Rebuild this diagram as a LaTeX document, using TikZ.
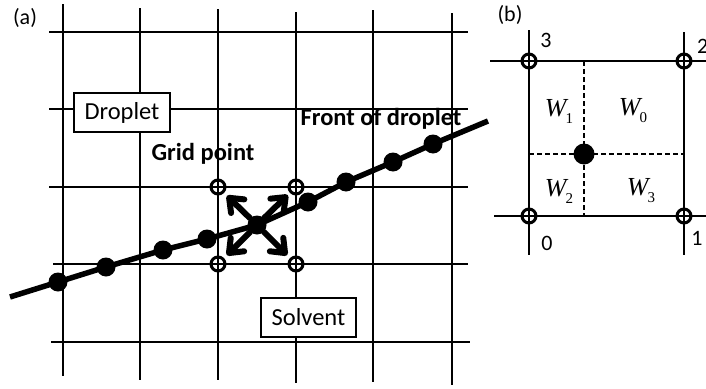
\documentclass[tikz,border=0pt]{standalone}
\usepackage{fontspec}
\setmainfont{Carlito}
\newfontfamily\wfont{Liberation Serif}
\usetikzlibrary{arrows.meta}
\begin{document}
\begin{tikzpicture}[x=1pt,y=-1pt,
  gridline/.style={line width=2.1pt},
  gp/.style={circle,draw,line width=3pt,minimum size=14pt,inner sep=0pt},
  dot/.style={circle,fill,minimum size=19pt,inner sep=0pt},
  lblbox/.style={draw,line width=1.8pt,inner sep=0pt,font=\fontsize{24.5}{24.5}\selectfont},
  boldlbl/.style={font=\fontsize{24.5}{24.5}\selectfont\bfseries,inner sep=0pt},
  panel/.style={font=\fontsize{22}{22}\selectfont,inner sep=0pt},
  arr/.style={line width=6pt,line cap=round,-{Straight Barb[length=12pt,width=19pt,round]}},
  dsh/.style={line width=1.8pt,dash pattern=on 5pt off 3pt},
  wlbl/.style={inner sep=0pt,font=\wfont\fontsize{26}{26}\selectfont}]
\useasboundingbox (0,0) rectangle (706,388);
% ---------- panel (a) ----------
\node[panel] (la) at (25,18) {(a)};
\draw[gridline] (63,4) -- (63,376);
\draw[gridline] (140,8) -- (140,380);
\draw[gridline] (218,9) -- (218,380);
\draw[gridline] (296,12) -- (296,383);
\draw[gridline] (373,10) -- (373,382);
\draw[gridline] (452,13) -- (452,385);
\draw[gridline] (49,32) -- (468,32);
\draw[gridline] (49,109) -- (468,109);
\draw[gridline] (49,187) -- (468,187);
\draw[gridline] (53,264) -- (468,264);
\draw[gridline] (51,342) -- (470,342);
% grid points
\node[gp] (g1) at (218,187) {};
\node[gp] (g2) at (296,187) {};
\node[gp] (g3) at (218,264) {};
\node[gp] (g4) at (296,264) {};
% front of droplet
\coordinate (fs) at (10,297);
\coordinate (fe) at (488,121);
\node[dot] (d1) at (58,282) {};
\node[dot] (d2) at (106,267) {};
\node[dot] (d3) at (163,250) {};
\node[dot] (d4) at (207,239) {};
\node[dot] (c)  at (257,225) {};
\node[dot] (d6) at (308,202) {};
\node[dot] (d7) at (346,182) {};
\node[dot] (d8) at (393,162) {};
\node[dot] (d9) at (433,144) {};
\draw[line width=5.5pt] (fs) -- (d1.center) -- (d2.center) -- (d3.center) -- (d4.center) -- (c.center) -- (d6.center) -- (d7.center) -- (d8.center) -- (d9.center) -- (fe);
% arrows
\draw[arr,shorten >=4pt] (c) -- (g1);
\draw[arr,shorten >=3pt] (c) -- (g2);
\draw[arr,shorten >=4pt] (c) -- (g3);
\draw[arr,shorten >=4pt] (c) -- (g4);
% labels
\node[lblbox,fill=white,minimum width=96pt,minimum height=39pt] (drop) at (122,112.5) {Droplet};
\node[lblbox,fill=white,minimum width=95pt,minimum height=39pt] (solv) at (308.5,317.5) {Solvent};
\node[boldlbl] (front) at (381,119) {Front of droplet};
\node[boldlbl] (grid) at (203,154) {Grid point};
% ---------- panel (b) ----------
\node[panel] (lb) at (510,15) {(b)};
\draw[gridline] (529,30) -- (529,255);
\draw[gridline] (684,32) -- (684,255);
\draw[gridline] (490,61) -- (706,61);
\draw[gridline] (494,216) -- (706,216);
\node[gp] (p0) at (529,216) {};
\node[gp] (p1) at (684,216) {};
\node[gp] (p2) at (684,61) {};
\node[gp] (p3) at (529,61) {};
\node[dot,minimum size=21pt] (w) at (584,154) {};
\draw[dsh] (w |- p3) -- (w |- p0);
\draw[dsh] (w -| p0) -- (w -| p1);
\node[panel] (n3) at (546,40) {3};
\node[panel,anchor=west] (n2) at (697,46) {2};
\node[panel] (n0) at (547,243) {0};
\node[panel] (n1) at (697,238) {1};
\node[wlbl] (w1) at (559,111) {\itshape W\kern-1pt\raisebox{-7pt}{\fontsize{15}{15}\selectfont\upshape 1}};
\node[wlbl] (w0) at (633,111) {\itshape W\kern-1pt\raisebox{-7pt}{\fontsize{15}{15}\selectfont\upshape 0}};
\node[wlbl] (w2) at (559,191) {\itshape W\kern-1pt\raisebox{-7pt}{\fontsize{15}{15}\selectfont\upshape 2}};
\node[wlbl] (w3) at (641,191) {\itshape W\kern-1pt\raisebox{-7pt}{\fontsize{15}{15}\selectfont\upshape 3}};
\end{tikzpicture}
\end{document}
